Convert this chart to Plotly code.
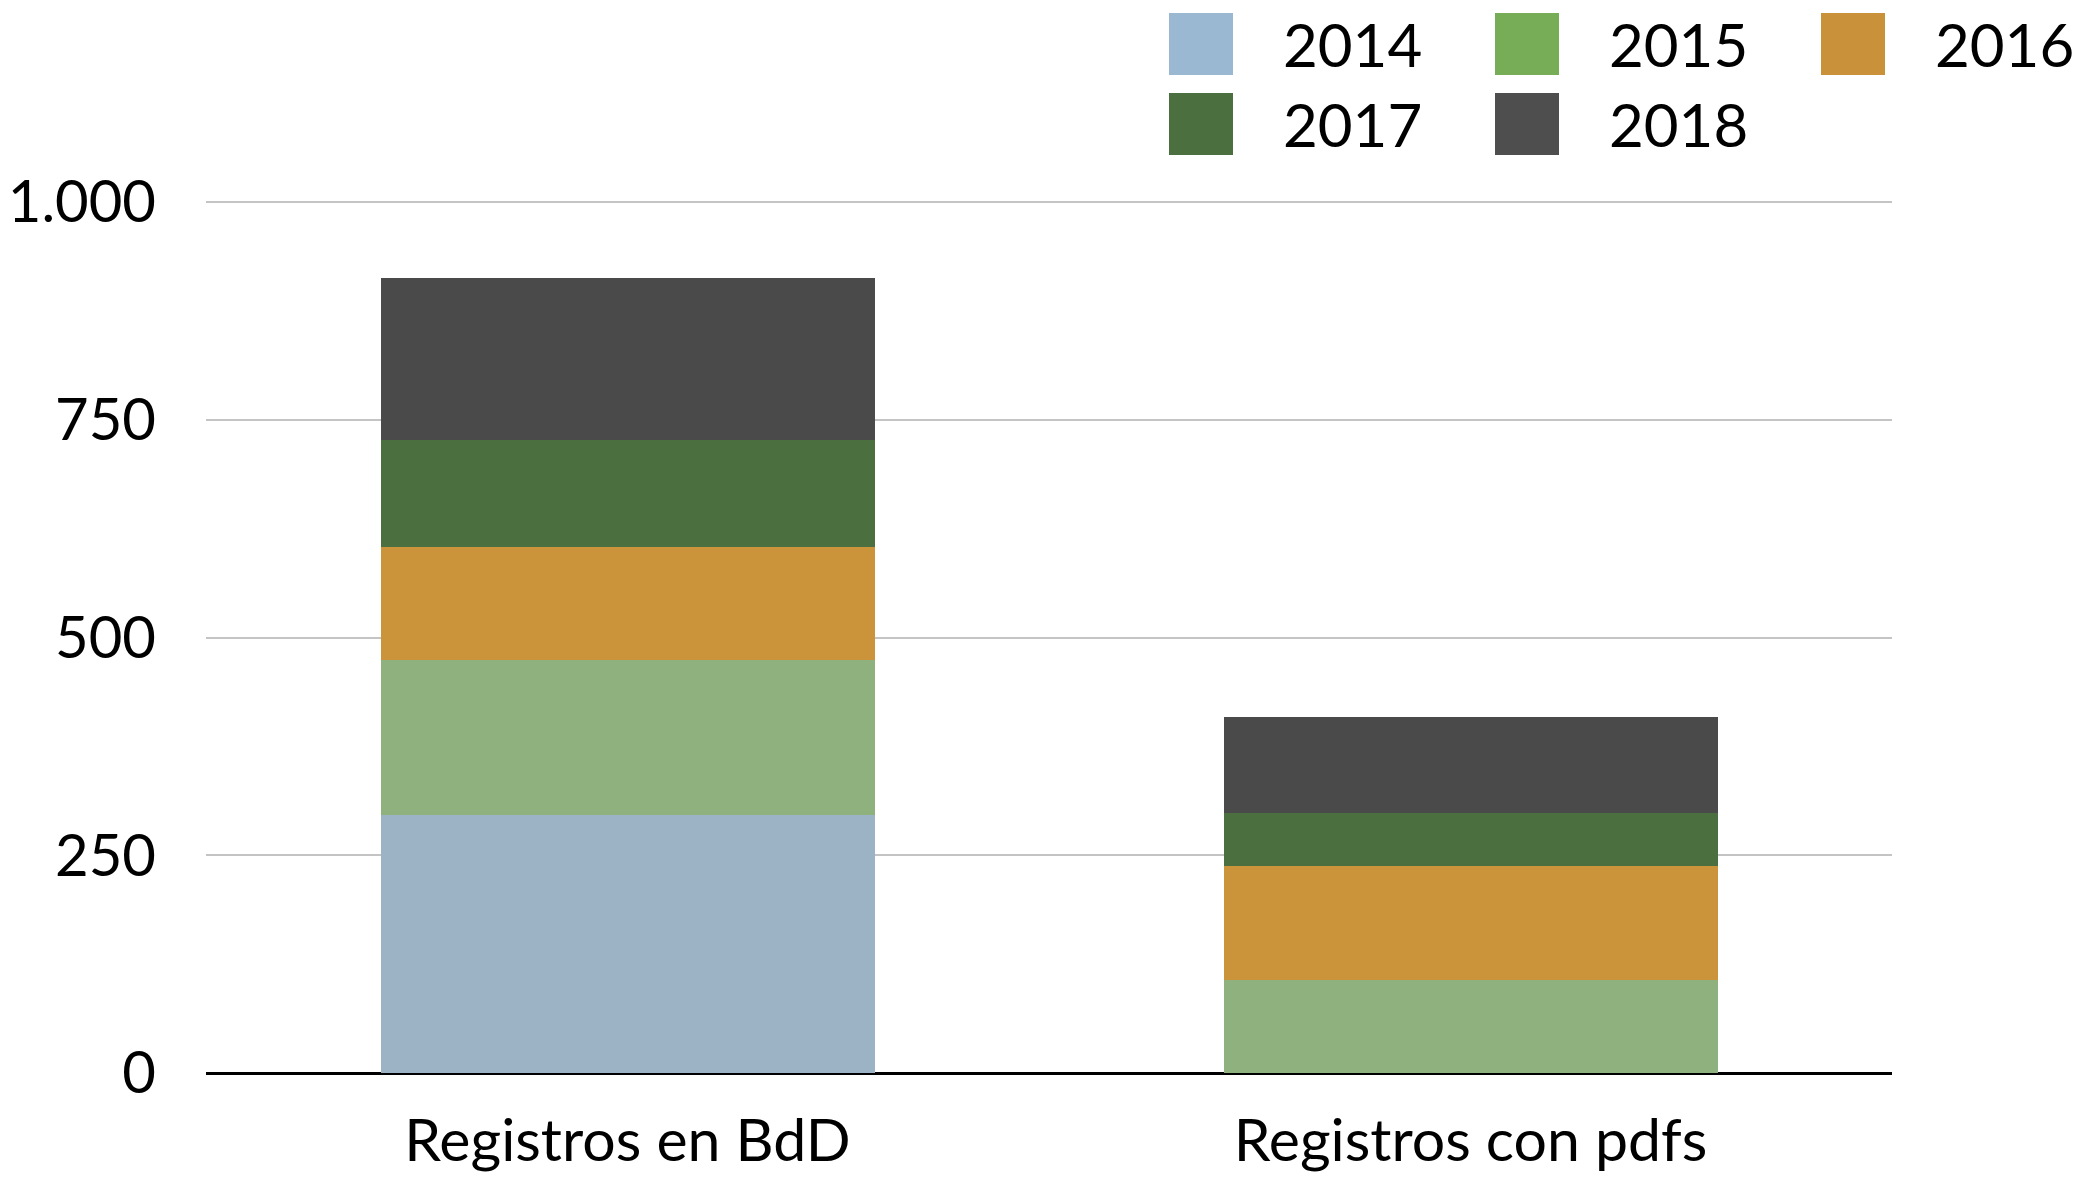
import plotly.graph_objects as go

categories = ["Registros en BdD", "Registros con pdfs"]
years = ["2014", "2015", "2016", "2017", "2018"]
v2014 = [296, 0]
v2015 = [178, 107]
v2016 = [130, 131]
v2017 = [123, 61]
v2018 = [186, 110]
series = [v2014, v2015, v2016, v2017, v2018]
colors = ["#9CB2C5", "#8FB17E", "#CC943A", "#4B6F3F", "#4A4A4A"]
legend_colors = ["#9BB8D2", "#78AD57", "#C9923A", "#4B6F3F", "#4E4E4E"]
y_ticks = [0, 250, 500, 750, 1000]

W, H = 2086, 1182
OFF = 8  # page body margin
ML, MR, MT, MB = 198, 202, 190, 117
FONT = "Lato, 'Open Sans', sans-serif"

pw, ph = W - ML - MR, H - MT - MB
y_top = ph * 1000 / 871

fig = go.Figure()
for name, vals, col in zip(years, series, colors):
    fig.add_trace(go.Bar(x=categories, y=vals, name=name, marker=dict(color=col, line=dict(width=0)),
                         showlegend=False))

def px2x(px):
    return (px - OFF - ML) / pw
def px2y(py):
    return (H - MB - (py - OFF)) / ph

# manual legend (large swatches)
col_x = [1169, 1495, 1821]
row_y = [13, 93]
sw, sh = 64, 62
for i, (name, col) in enumerate(zip(years, legend_colors)):
    r, c = divmod(i, 3)
    x0 = col_x[c]
    y0 = row_y[r]
    fig.add_shape(type="rect", xref="paper", yref="paper",
                  x0=px2x(x0), x1=px2x(x0 + sw), y0=px2y(y0 + sh), y1=px2y(y0),
                  fillcolor=col, line=dict(width=0), layer="above")
    fig.add_annotation(xref="paper", yref="paper", x=px2x(x0 + 112), y=px2y(y0 + sh / 2),
                       text=name, showarrow=False, xanchor="left", yanchor="middle",
                       font=dict(family=FONT, size=60, color="black"))

fig.update_layout(
    width=W, height=H,
    barmode="stack", bargap=0.414,
    plot_bgcolor="white", paper_bgcolor="white",
    margin=dict(l=ML, r=MR, t=MT, b=MB, pad=0, autoexpand=False),
    separators=",.",
    font=dict(family=FONT, size=58, color="black"),
    xaxis=dict(showgrid=False, showline=False, ticks="", ticklabelstandoff=28, automargin=False,
               tickfont=dict(size=59, color="black")),
    yaxis=dict(range=[0, y_top], tickvals=y_ticks, tickformat=",d", showgrid=True, automargin=False,
               gridcolor="#C4C4C4", gridwidth=2, zeroline=True, zerolinecolor="black",
               zerolinewidth=3, showline=False, ticks="", ticklabelstandoff=49,
               tickfont=dict(size=58, color="black")),
)

fig.write_html("out.html")
